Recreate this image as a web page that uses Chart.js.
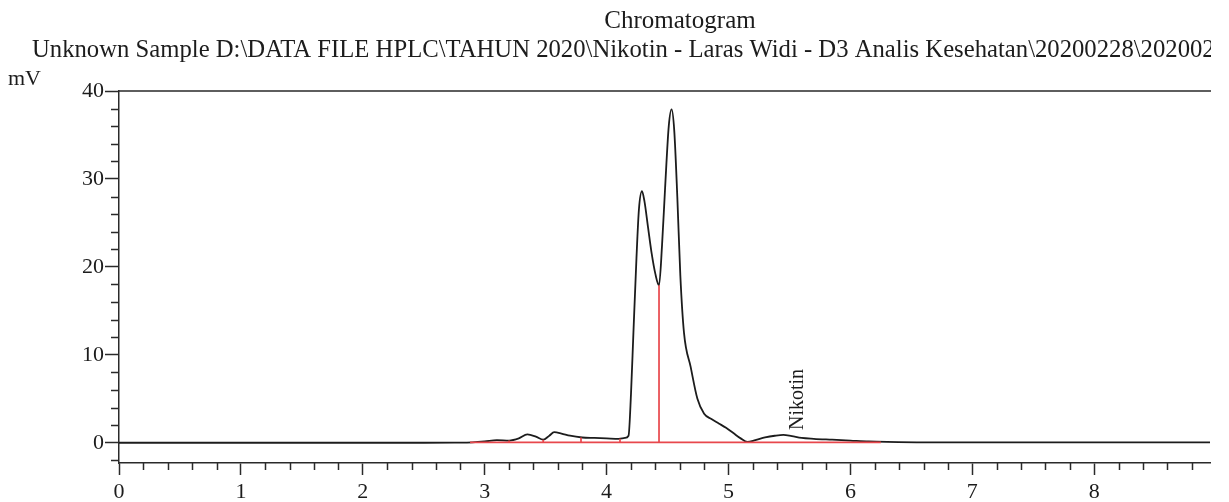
<!DOCTYPE html>
<html>
<head>
<meta charset="utf-8">
<script src="https://cdn.jsdelivr.net/npm/chart.js@4.4.1/dist/chart.umd.min.js"></script>
<style>
    html, body { margin: 0; padding: 0; background: #fff; }
</style>
</head>
<body>
<canvas id="myChart" width="1229" height="502"></canvas>
<script>
// Temps de rétention (min) et signal (mV)
const times = [0, 0.5, 1, 1.5, 2, 2.5, 2.75, 2.9, 3.0, 3.1, 3.2, 3.28, 3.35, 3.42, 3.48, 3.53, 3.57, 3.63, 3.7, 3.8,
    3.9, 4.0, 4.1, 4.15, 4.18, 4.2, 4.22, 4.245, 4.265, 4.29, 4.31, 4.34, 4.37, 4.40, 4.43, 4.455, 4.48, 4.51, 4.533,
    4.555, 4.58, 4.605, 4.635, 4.69, 4.745, 4.8, 4.86, 4.92, 4.98, 5.04, 5.1, 5.155, 5.22, 5.3, 5.38, 5.45, 5.52, 5.6,
    5.7, 5.85, 6.0, 6.15, 6.3, 6.6, 7, 7.5, 8, 8.5, 8.95];
const signal = [0, 0, 0, 0, 0, 0, 0.02, 0.05, 0.15, 0.3, 0.25, 0.5, 0.95, 0.7, 0.35, 0.8, 1.2, 1.05, 0.8, 0.6,
    0.55, 0.5, 0.45, 0.55, 0.8, 5.5, 12.5, 21, 26.5, 28.6, 27.5, 24.5, 21.5, 19.2, 17.9, 22.5, 29, 36, 37.9,
    35.5, 28, 19, 12.5, 8.6, 5.0, 3.3, 2.7, 2.2, 1.7, 1.1, 0.5, 0.1, 0.3, 0.6, 0.8, 0.9, 0.75, 0.55,
    0.45, 0.35, 0.25, 0.15, 0.1, 0.05, 0.05, 0.05, 0.05, 0.05, 0.05];

// Ligne de base de l'intégration et coupures entre pics
const baselineTimes = [2.88, 6.25];
const baselineLevel = [0.05, 0.05];
const dropTimes = [3.20, 3.48, 3.79, 4.11, 4.43];
const dropTops = [0.25, 0.35, 0.6, 0.45, 17.9];

// Graduations
const xMajorLabels = [0, 1, 2, 3, 4, 5, 6, 7, 8];
const yMajorLabels = [0, 10, 20, 30, 40];

const peakName = 'Nikotin';
const peakLabelTime = 5.57;
const peakLabelLevel = 1.45;

const titleText = 'Chromatogram';
const subtitleText = 'Unknown Sample D:\\DATA FILE HPLC\\TAHUN 2020\\Nikotin - Laras Widi - D3 Analis Kesehatan\\20200228\\2020022';
const yUnit = 'mV';

const ink = '#1c1c1c';
const axisColor = '#2a2a2a';
const red = '#e8474c';
const serif = '"Liberation Serif", "Times New Roman", serif';

const curve = times.map((t, i) => ({ x: t, y: signal[i] }));
const baseline = baselineTimes.map((t, i) => ({ x: t, y: baselineLevel[i] }));
const drops = [];
dropTimes.forEach((t, i) => {
    drops.push({ x: t, y: baselineLevel[0] }, { x: t, y: dropTops[i] }, { x: t, y: null });
});

const isMajor = (v, list) => list.some(m => Math.abs(m - v) < 1e-6);

const decor = {
    id: 'decor',
    afterDraw(chart) {
        const { ctx, chartArea, scales } = chart;
        const xs = scales.x, ys = scales.y;
        ctx.save();
        ctx.strokeStyle = axisColor;
        ctx.lineWidth = 1.5;
        ctx.beginPath();
        // cadre du haut
        ctx.moveTo(chartArea.left, chartArea.top);
        ctx.lineTo(chartArea.right + 1, chartArea.top);
        // petites graduations
        xs.ticks.forEach(t => {
            if (isMajor(t.value, xMajorLabels)) return;
            const px = Math.round(xs.getPixelForValue(t.value)) + 0.5;
            ctx.moveTo(px, chartArea.bottom);
            ctx.lineTo(px, chartArea.bottom + 7);
        });
        ys.ticks.forEach(t => {
            if (isMajor(t.value, yMajorLabels)) return;
            const py = Math.round(ys.getPixelForValue(t.value)) + 0.5;
            ctx.moveTo(chartArea.left, py);
            ctx.lineTo(chartArea.left - 8, py);
        });
        ctx.stroke();

        ctx.fillStyle = ink;
        ctx.textBaseline = 'alphabetic';
        ctx.font = '25px ' + serif;
        ctx.textAlign = 'center';
        ctx.fillText(titleText, 680, 28);

        ctx.save();
        ctx.beginPath();
        ctx.rect(0, 30, chartArea.right + 1, 40);
        ctx.clip();
        ctx.font = '24.7px ' + serif;
        ctx.textAlign = 'left';
        ctx.fillText(subtitleText, 32, 57);
        ctx.restore();

        ctx.font = '22px ' + serif;
        ctx.textAlign = 'left';
        ctx.fillText(yUnit, 8, 85);

        // nom du pic
        ctx.translate(xs.getPixelForValue(peakLabelTime), ys.getPixelForValue(peakLabelLevel));
        ctx.rotate(-Math.PI / 2);
        ctx.font = '20px ' + serif;
        ctx.textBaseline = 'middle';
        ctx.fillText(peakName, 0, 0);
        ctx.restore();
    }
};

const ctx = document.getElementById('myChart').getContext('2d');
new Chart(ctx, {
    type: 'line',
    data: {
        datasets: [
            {
                data: drops,
                borderColor: red,
                borderWidth: 1.7,
                pointRadius: 0,
                tension: 0,
                spanGaps: false,
            },
            {
                data: baseline,
                borderColor: red,
                borderWidth: 1.7,
                pointRadius: 0,
                tension: 0,
            },
            {
                data: curve,
                borderColor: ink,
                borderWidth: 1.8,
                pointRadius: 0,
                cubicInterpolationMode: 'monotone',
            },
        ],
    },
    options: {
        responsive: false,
        animation: false,
        layout: { padding: { left: 0, right: 19, top: 91, bottom: 0 } },
        plugins: {
            legend: { display: false },
            tooltip: { enabled: false },
        },
        scales: {
            x: {
                type: 'linear',
                min: 0,
                max: 8.95,
                afterFit: s => { s.height = 39; },
                border: { color: axisColor, width: 1.5 },
                grid: {
                    drawOnChartArea: false,
                    tickLength: 12,
                    tickWidth: 1.5,
                    tickColor: c => isMajor(c.tick.value, xMajorLabels) ? axisColor : 'rgba(0,0,0,0)',
                },
                ticks: {
                    stepSize: 0.2,
                    includeBounds: false,
                    autoSkip: false,
                    maxRotation: 0,
                    padding: 4,
                    color: ink,
                    font: { family: serif, size: 22 },
                    callback: v => isMajor(v, xMajorLabels) ? String(Math.round(v)) : '',
                },
            },
            y: {
                min: -2.3,
                max: 40,
                afterFit: s => { s.width = 119; },
                border: { color: axisColor, width: 1.5 },
                grid: {
                    drawOnChartArea: false,
                    tickLength: 14,
                    tickWidth: 1.5,
                    tickColor: c => isMajor(c.tick.value, yMajorLabels) ? axisColor : 'rgba(0,0,0,0)',
                },
                ticks: {
                    stepSize: 2,
                    includeBounds: false,
                    autoSkip: false,
                    padding: 1,
                    color: ink,
                    font: { family: serif, size: 22 },
                    callback: v => isMajor(v, yMajorLabels) ? String(Math.round(v)) : '',
                },
            },
        },
    },
    plugins: [decor],
});
</script>
</body>
</html>
